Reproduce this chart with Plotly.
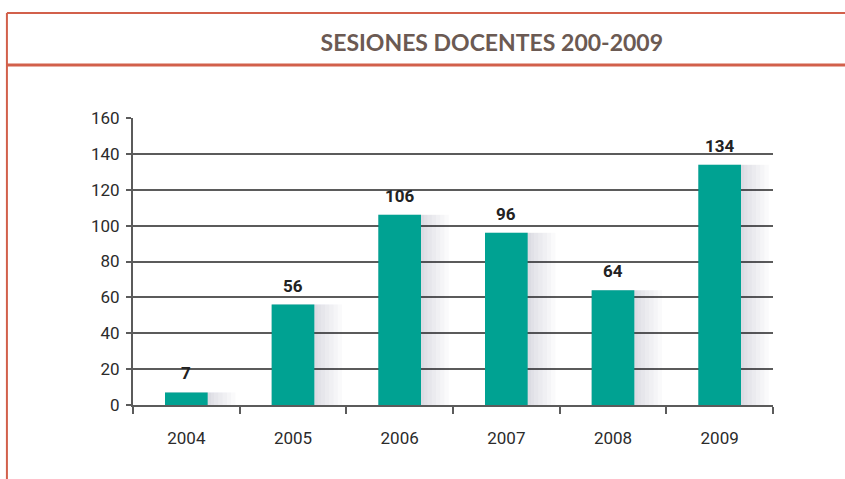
import plotly.graph_objects as go

years = ["2004", "2005", "2006", "2007", "2008", "2009"]
sessions = [7, 56, 106, 96, 64, 134]
y_ticks = [0, 20, 40, 60, 80, 100, 120, 140, 160]
grid_ticks = [20, 40, 60, 80, 100, 120, 140]

TEAL = "#00a292"
AXIS = "#5b5b5b"
FRAME = "#d2604b"
FONT = "Roboto, Liberation Sans, sans-serif"

fig = go.Figure()

# soft shadow to the right of each bar
for w in [0.66, 0.62, 0.58, 0.54, 0.5, 0.46, 0.43]:
    fig.add_trace(go.Bar(
        x=years, y=sessions, width=w, offset=-0.2,
        marker=dict(color="rgba(60,60,70,0.022)", line=dict(width=0)),
        hoverinfo="skip", showlegend=False,
    ))

fig.add_trace(go.Bar(
    x=years, y=sessions, width=0.4,
    marker=dict(color=TEAL, line=dict(width=0)),
    hoverinfo="skip", showlegend=False,
))

# invisible trace on the grid axis so it gets drawn
fig.add_trace(go.Scatter(x=years, y=sessions, yaxis="y2", mode="none",
                         hoverinfo="skip", showlegend=False))

# value labels (x given as category index)
for i, v in enumerate(sessions):
    fig.add_annotation(x=i, y=v, text=f"<b>{v}</b>", showarrow=False,
                       yanchor="bottom", yshift=7,
                       font=dict(family=FONT, size=17, color="#222222"))

fig.update_layout(
    width=845, height=479,
    margin=dict(l=133, r=72, t=118, b=74),
    paper_bgcolor="white", plot_bgcolor="rgba(0,0,0,0)",
    barmode="overlay",
    font=dict(family=FONT, size=17, color="#2b2b2b"),
    title=dict(text="<b>SESIONES DOCENTES 200-2009</b>", x=0.582, xanchor="center",
               y=0.91, yanchor="middle",
               font=dict(family="Lato, Open Sans, sans-serif", size=23, color="#6b5a53")),
    xaxis=dict(type="category", range=[-0.5, len(years) - 0.5], tickson="boundaries",
               ticks="outside", ticklen=7, tickangle=0,
               tickwidth=2, tickcolor=AXIS, showline=True, linecolor=AXIS, linewidth=2,
               showgrid=False, ticklabelstandoff=17, tickfont=dict(size=17)),
    yaxis=dict(range=[0, 160], tickvals=y_ticks, ticks="outside", ticklen=5,
               tickwidth=2, tickcolor=AXIS, showline=True, linecolor=AXIS, linewidth=2,
               showgrid=False, zeroline=False, ticklabelstandoff=3, tickfont=dict(size=17)),
    yaxis2=dict(range=[0, 160], tickvals=grid_ticks, overlaying="y", showgrid=True,
                gridcolor=AXIS, gridwidth=2, showticklabels=False, ticks="",
                zeroline=False, showline=False),
    shapes=[
        dict(type="line", xref="paper", yref="paper", x0=-0.197, x1=1.2, y0=1.366, y1=1.366,
             line=dict(color=FRAME, width=2)),
        dict(type="line", xref="paper", yref="paper", x0=-0.197, x1=1.2, y0=1.185, y1=1.185,
             line=dict(color=FRAME, width=3)),
        dict(type="line", xref="paper", yref="paper", x0=-0.197, x1=-0.197, y0=1.366, y1=-0.3,
             line=dict(color=FRAME, width=2)),
    ],
)

fig.write_html("out.html", config={"displayModeBar": False},
               post_script="document.body.style.margin='0';document.body.style.overflow='hidden';")
